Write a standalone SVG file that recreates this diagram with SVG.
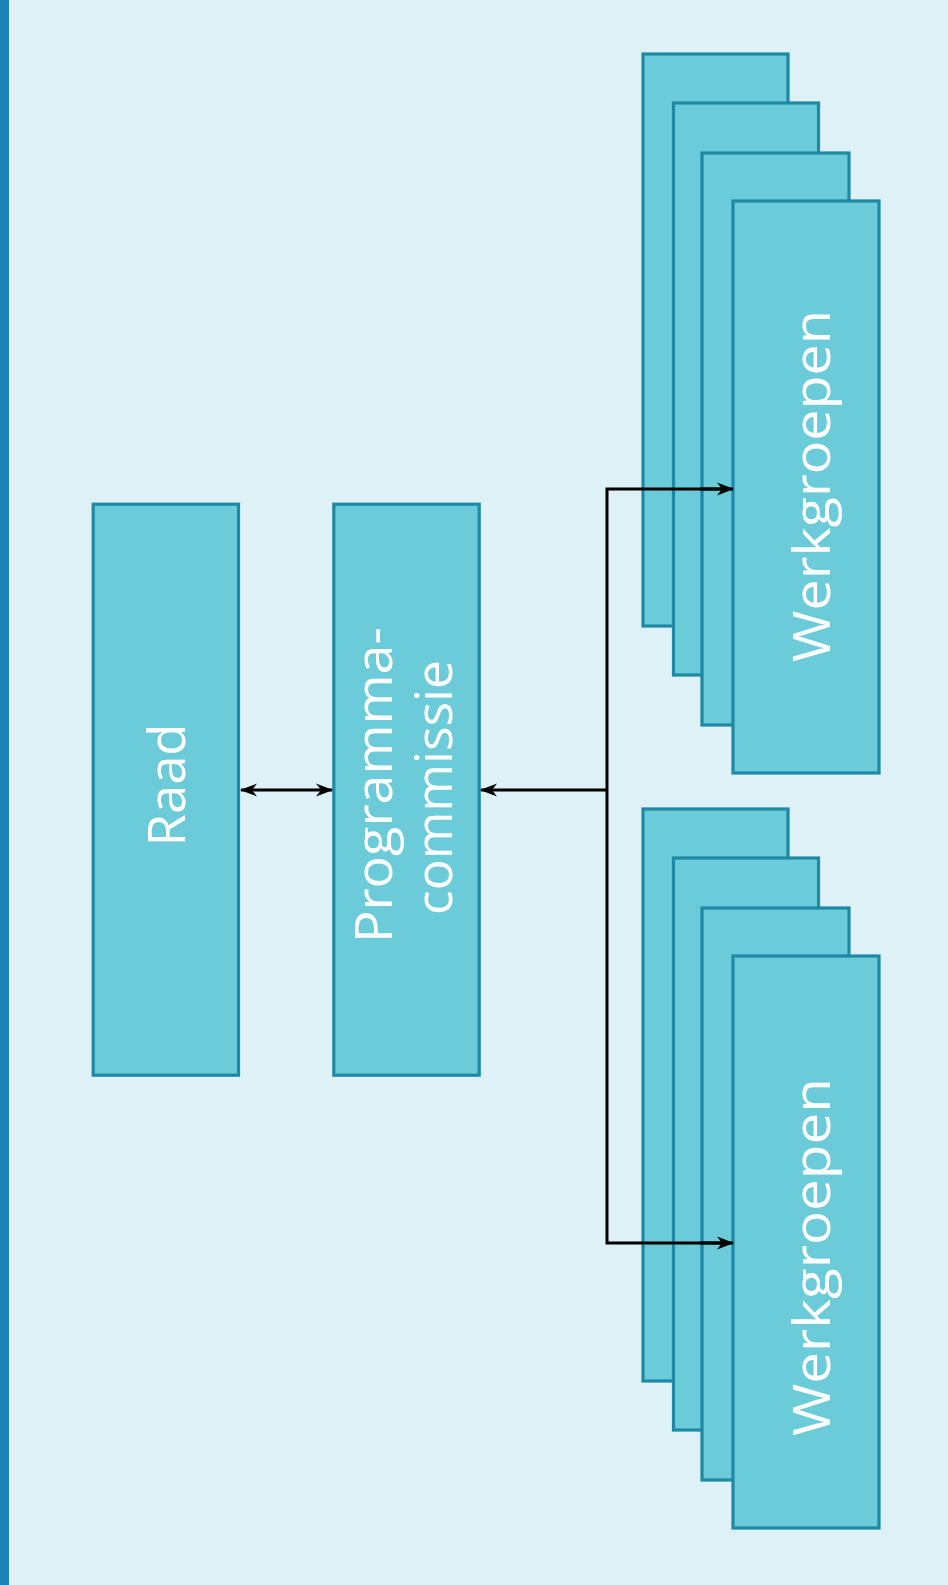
<svg xmlns="http://www.w3.org/2000/svg" width="948" height="1585" viewBox="0 0 948 1585">
<style>
.bg{fill:#ddf1f7}
.strip{fill:#1a84b8}
.box{fill:#6ccbd9;stroke:#1d89a4;stroke-width:3.2}
.lbl{fill:#ffffff;font-family:"Open Sans","Liberation Sans",sans-serif;font-size:52px;text-anchor:middle}
.conn{fill:none;stroke:#000000;stroke-width:3}
</style>
<defs>
<marker id="ah" markerUnits="userSpaceOnUse" markerWidth="18" markerHeight="16" refX="16" refY="8" orient="auto-start-reverse" viewBox="0 0 18 16">
<path d="M0,1.5 L17,8 L0,14.5 L5,8 z" fill="#000000"/>
</marker>
</defs>
<rect class="bg" x="0" y="0" width="948" height="1585"/>
<rect class="strip" x="0" y="0" width="9" height="1585"/>

<g id="raad">
<rect class="box" x="93.2" y="504.2" width="145.3" height="571"/>
<text class="lbl" transform="translate(185,785) rotate(-90)" x="0" y="0" textLength="123" lengthAdjust="spacingAndGlyphs">Raad</text>
</g>

<g id="programmacommissie">
<rect class="box" x="333.8" y="504.2" width="145.4" height="571"/>
<text class="lbl" transform="translate(392,785) rotate(-90)" x="0" y="0" textLength="316" lengthAdjust="spacingAndGlyphs">Programma-</text>
<text class="lbl" transform="translate(452,787.5) rotate(-90)" x="0" y="0" textLength="255" lengthAdjust="spacingAndGlyphs">commissie</text>
</g>

<g id="werkgroepen-1">
<rect class="box" x="643" y="54" width="145" height="572"/>
<rect class="box" x="673.5" y="103" width="145" height="572"/>
<rect class="box" x="702" y="153" width="147" height="572"/>
<rect class="box" x="733" y="201" width="146" height="572"/>
<text class="lbl" transform="translate(830,486) rotate(-90)" x="0" y="0" textLength="352" lengthAdjust="spacingAndGlyphs">Werkgroepen</text>
</g>

<g id="werkgroepen-2">
<rect class="box" x="643" y="809" width="145" height="572"/>
<rect class="box" x="673.5" y="858" width="145" height="572"/>
<rect class="box" x="702" y="908" width="147" height="572"/>
<rect class="box" x="733" y="956" width="146" height="572"/>
<text class="lbl" transform="translate(830,1257) rotate(-90)" x="0" y="0" textLength="358" lengthAdjust="spacingAndGlyphs">Werkgroepen</text>
</g>

<g id="connectors">
<line class="conn" x1="241" y1="790" x2="332" y2="790" marker-start="url(#ah)" marker-end="url(#ah)"/>
<line class="conn" x1="607" y1="790" x2="481" y2="790" marker-end="url(#ah)"/>
<polyline class="conn" points="725,489 607,489 607,1243 725,1243"/>
<line class="conn" x1="700" y1="489" x2="733" y2="489" marker-end="url(#ah)"/>
<line class="conn" x1="700" y1="1243" x2="733" y2="1243" marker-end="url(#ah)"/>
</g>
</svg>
